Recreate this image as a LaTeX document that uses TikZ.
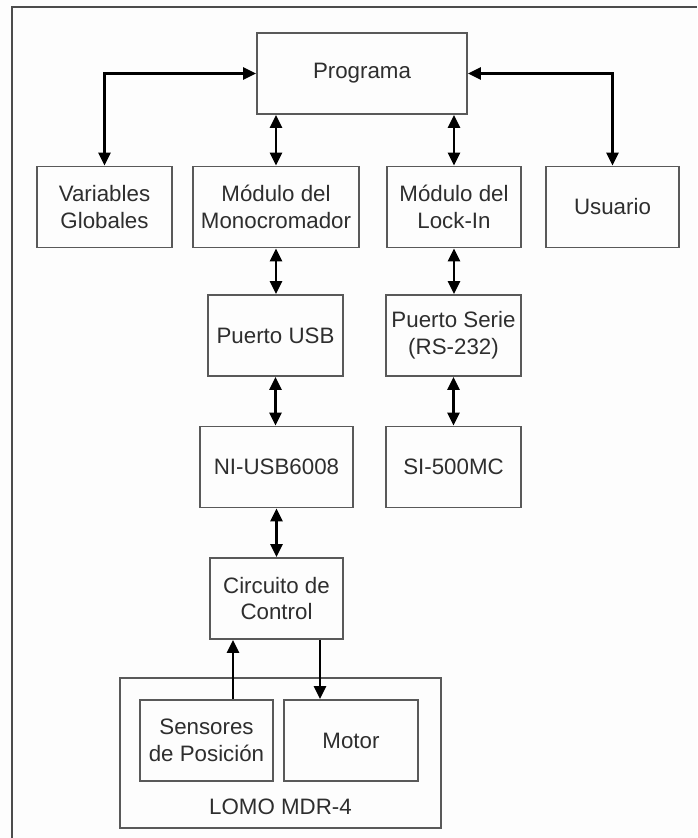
\documentclass[tikz,border=0pt]{standalone}
\usepackage{fontspec}
\setmainfont{Liberation Sans}
\usetikzlibrary{arrows.meta}
\usetikzlibrary{calc}

\begin{document}
\begin{tikzpicture}[x=0.02cm, y=-0.02cm]
    \colorlet{borde}{black!65}
\colorlet{texto}{black!82}
\colorlet{marco}{black!70}
\definecolor{fondo}{RGB}{253,253,253}

\newcommand\unidad{0.02cm}
\newcommand\alto{81}
\newcommand\desvio{43.5}

\tikzset{
    bloque/.style={
        draw=borde, line width=1.1pt, rectangle,
        text=texto, align=center,
        font=\fontsize{12.7}{15.2}\selectfont,
        minimum height={\alto * \unidad},
        inner sep=0pt,
    },
    ancho/.style={minimum width={#1 * \unidad}},
    enlace/.style={
        line width=1.5pt, black,
        arrows={-Triangle[length=7.4pt, width=6.8pt]},
    },
    doble/.style={
        enlace,
        arrows={Triangle[length=7.4pt, width=6.8pt]-Triangle[length=7.4pt, width=6.8pt]},
    },
}

\useasboundingbox (0, 0) rectangle (697, 838);
\fill[fondo] (0, 0) rectangle (697, 838);
\draw[marco, line width=1.2pt] (12, 838) -- (12, 7) -- (697, 7);

% fila superior
\node[bloque, ancho=210] at (362, 73.5) (prog) {Programa};
\node[bloque, ancho=135] at (104.5, 207) (vars) {Variables\\Globales};
\node[bloque, ancho=166] at (276, 207) (mono) {Módulo del\\Monocromador};
\node[bloque, ancho=134] at (454, 207) (lockin) {Módulo del\\Lock-In};
\node[bloque, ancho=133] at (612.5, 207) (usuario) {Usuario};

% puertos
\node[bloque, ancho=135] at (275.5, 335.5) (usb) {Puerto USB};
\node[bloque, ancho=135] at (453.5, 335.5) (serie) {Puerto Serie\\(RS-232)};
\node[bloque, ancho=153] at (276.5, 467) (ni) {NI-USB6008};
\node[bloque, ancho=135] at (453.5, 467) (si) {SI-500MC};
\node[bloque, ancho=133] at (276.5, 598.5) (circ) {Circuito de\\Control};

% equipo
\node[bloque, ancho=321, minimum height={150 * \unidad}] at (280.5, 753) (lomo) {};
\node[bloque, ancho=133] at (206.5, 740.5) (sens) {Sensores\\de Posición};
\node[bloque, ancho=134] at (351, 740.5) (motor) {Motor};
\node[text=texto, font=\fontsize{12.7}{15.2}\selectfont, inner sep=0pt]
    at (280.5, 807) (lomo-tit) {LOMO MDR-4};

\draw[doble] (vars.north) |- (prog.west);
\draw[doble] (usuario.north) |- (prog.east);
\draw[doble] (mono.north) -- (mono.north |- prog.south);
\draw[doble] (lockin.north) -- (lockin.north |- prog.south);
\draw[doble] (usb.north -| mono.south) -- (mono.south);
\draw[doble] (lockin.south) -- (lockin.south |- serie.north);
\draw[doble] (usb.south) -- (usb.south |- ni.north);
\draw[doble] (serie.south) -- (serie.south |- si.north);
\draw[doble] (ni.south) -- (circ.north);

\coordinate (sube) at ($(circ.south)+(-\desvio, 0)$);
\coordinate (baja) at ($(circ.south)+(\desvio, 0)$);
\draw[enlace] (sube |- sens.north) -- (sube);
\draw[enlace] (baja) -- (baja |- motor.north);
\end{tikzpicture}
\end{document}
